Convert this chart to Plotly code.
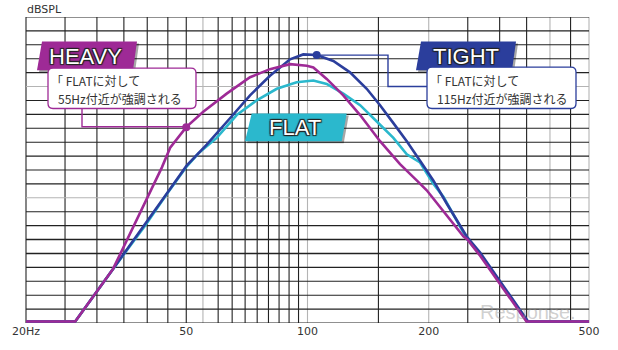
import math
import plotly.graph_objects as go

# ---------------- data (frequency in Hz, level in grid units) ----------------
heavy_freq = [20, 26.5, 32.9, 39.5, 43.5, 45.6, 50, 55.1, 63.0, 72.0, 80.7, 90.5, 99.6, 103.4,
              111.6, 122.7, 135.1, 151.4, 169.7, 186.7, 197.7, 243.8, 249.4, 268.3, 349.6, 500]
heavy_lvl = [0.11, 0.11, 3.89, 8.59, 11.19, 12.6, 14.08, 15.19, 16.49, 17.67, 18.25, 18.61, 18.49, 18.37,
             17.55, 16.37, 14.95, 13.07, 11.42, 10.25, 9.54, 6.24, 6.01, 4.83, 0.11, 0.11]

tight_freq = [20, 26.5, 32.9, 39.5, 44.7, 50.1, 56.2, 64.2, 72.0, 80.7, 90.5, 97.6, 105.4, 115.9,
              127.5, 140.3, 151.4, 163.4, 176.4, 190.3, 205.3, 221.6, 249.4, 268.3, 353, 500]
tight_lvl = [0.11, 0.11, 3.89, 7.07, 9.30, 11.31, 12.83, 14.72, 16.37, 17.78, 18.96, 19.31, 19.27, 18.84,
             18.02, 16.84, 15.66, 14.37, 13.07, 11.66, 10.25, 8.59, 6.15, 5.06, 0.11, 0.11]

flat_freq = [20, 26.5, 32.9, 39.5, 44.7, 50.1, 53.6, 59.5, 66.7, 74.8, 83.9, 94.0, 103.4, 111.6,
             122.7, 135.1, 148.6, 163.4, 176.4, 190.3, 205.3, 217.5, 249.4, 268.3, 351.5, 500]
flat_lvl = [0.11, 0.11, 3.89, 7.0, 9.25, 11.25, 12.2, 13.31, 14.95, 16.01, 16.84, 17.31, 17.43, 17.19,
            16.49, 15.66, 14.49, 13.31, 12.13, 11.54, 10.01, 9.07, 6.01, 4.95, 0.11, 0.11]

dot_heavy = (50, 14.08)
dot_tight = (105.4, 19.27)

tick_vals = [20, 50, 100, 200, 500]
tick_text = ["20Hz", "50", "100", "200", "500"]

grid_x = [20, 25, 30, 35, 40, 45, 50, 55, 60, 65, 70, 75, 80, 85, 90, 95, 100,
          150, 200, 250, 300, 350, 400, 450, 500]
grid_x_light = [55, 100, 200, 400, 500]
grid_y = list(range(0, 23))
grid_y_light = [9, 17]
grid_y_heavy = [5, 6]

C_HEAVY = "#9E2A96"
C_TIGHT = "#2B3E9C"
C_FLAT = "#2BB8CD"

F_MIN, F_MAX = 20, 500

# ---------------- geometry helpers (pixel -> paper) ----------------
W, H = 618, 350
L, R, T, B = 26, 589, 17, 328


def pp(x, y):
    return (x - L) / (R - L), (B - y) / (B - T)


def fx(f):
    return (math.log10(f) - math.log10(F_MIN)) / (math.log10(F_MAX) - math.log10(F_MIN))


def poly(points):
    s = ""
    for i, (x, y) in enumerate(points):
        px, py = pp(x, y)
        s += ("M" if i == 0 else "L") + f"{px:.5f},{py:.5f} "
    return s + "Z"


def rrect(x0, y0, x1, y1, r):
    def P(x, y):
        a, b = pp(x, y)
        return f"{a:.5f},{b:.5f}"
    return (f"M{P(x0 + r, y0)} L{P(x1 - r, y0)} Q{P(x1, y0)} {P(x1, y0 + r)} "
            f"L{P(x1, y1 - r)} Q{P(x1, y1)} {P(x1 - r, y1)} L{P(x0 + r, y1)} "
            f"Q{P(x0, y1)} {P(x0, y1 - r)} L{P(x0, y0 + r)} Q{P(x0, y0)} {P(x0 + r, y0)} Z")


def polyline(points):
    s = ""
    for i, (x, y) in enumerate(points):
        px, py = pp(x, y)
        s += ("M" if i == 0 else "L") + f"{px:.5f},{py:.5f} "
    return s


fig = go.Figure()

fig.add_trace(go.Scatter(x=flat_freq, y=flat_lvl, mode="lines",
                         line=dict(color=C_FLAT, width=2.6), hoverinfo="skip"))
fig.add_trace(go.Scatter(x=tight_freq, y=tight_lvl, mode="lines",
                         line=dict(color=C_TIGHT, width=2.6), hoverinfo="skip"))
fig.add_trace(go.Scatter(x=heavy_freq, y=heavy_lvl, mode="lines",
                         line=dict(color=C_HEAVY, width=2.6), hoverinfo="skip"))
fig.add_trace(go.Scatter(x=[dot_heavy[0]], y=[dot_heavy[1]], mode="markers",
                         marker=dict(color=C_HEAVY, size=8), hoverinfo="skip"))
fig.add_trace(go.Scatter(x=[dot_tight[0]], y=[dot_tight[1]], mode="markers",
                         marker=dict(color=C_TIGHT, size=8), hoverinfo="skip"))

shapes = []
# grid
for f in grid_x:
    col = "#b4b4b4" if f in grid_x_light else "#222222"
    shapes.append(dict(type="line", xref="paper", yref="paper", x0=fx(f), x1=fx(f),
                       y0=0, y1=1, line=dict(color=col, width=1.1), layer="below"))
for g in grid_y:
    col = "#b4b4b4" if g in grid_y_light else "#222222"
    wd = 1.6 if g in grid_y_heavy else 1.1
    shapes.append(dict(type="line", xref="paper", yref="y", x0=0, x1=1, y0=g, y1=g,
                       line=dict(color=col, width=wd), layer="below"))

# connectors
shapes.append(dict(type="path", xref="paper", yref="paper",
                   path=polyline([(82, 110), (82, 128.5), (186, 128.5)]),
                   line=dict(color=C_HEAVY, width=1.4)))
shapes.append(dict(type="path", xref="paper", yref="paper",
                   path=polyline([(316.7, 55.7), (388, 55.7), (388, 87.7), (427, 87.7)]),
                   line=dict(color=C_TIGHT, width=1.4)))

# labels (parallelograms) with shadows
labels = [
    ([(42, 42), (137, 42), (133, 71), (37, 71)], C_HEAVY),
    ([(421, 42), (516, 42), (512, 71), (416, 71)], C_TIGHT),
    ([(251.7, 115), (346.7, 115), (341.7, 143.3), (245, 143.3)], C_FLAT),
]
for pts, col in labels:
    sh = [(x + 2, y + 2) for x, y in pts]
    shapes.append(dict(type="path", xref="paper", yref="paper", path=poly(sh),
                       fillcolor="rgba(0,0,0,0.35)", line=dict(width=0)))
    shapes.append(dict(type="path", xref="paper", yref="paper", path=poly(pts),
                       fillcolor=col, line=dict(width=0)))

# callout boxes
shapes.append(dict(type="path", xref="paper", yref="paper", path=rrect(48, 69, 196, 110, 5),
                   fillcolor="white", line=dict(color=C_HEAVY, width=1.3)))
shapes.append(dict(type="path", xref="paper", yref="paper", path=rrect(427, 68, 576, 110, 5),
                   fillcolor="white", line=dict(color=C_TIGHT, width=1.3)))

annotations = []


def txt(x, y, s, size=12, color="#333333", xanchor="left", family="Noto Sans CJK JP", shadow=None, **kw):
    px, py = pp(x, y)
    font = dict(size=size, color=color, family=family)
    if shadow:
        font["shadow"] = shadow
    annotations.append(dict(x=px, y=py, xref="paper", yref="paper", text=s, showarrow=False,
                            xanchor=xanchor, yanchor="middle", font=font, **kw))


lab_shadow = "1px 1px 1px #222, -1px -1px 1px #222, 1px -1px 1px #222, -1px 1px 1px #222"
txt(85, 57, "HEAVY", size=22, color="white", xanchor="center", family="Liberation Sans", shadow=lab_shadow)
txt(465.5, 57, "TIGHT", size=22, color="white", xanchor="center", family="Liberation Sans", shadow=lab_shadow)
txt(295, 129, "FLAT", size=22, color="white", xanchor="center", family="Liberation Sans", shadow=lab_shadow)

txt(49, 82, "「 FLATに対して")
txt(55.5, 100, "55Hz付近が強調される")
txt(428, 82, "「 FLATに対して")
txt(435, 100, "115Hz付近が強調される")

txt(25, 9, "dBSPL", size=11, color="#333333", family="DejaVu Sans")
txt(528, 317, "Response.", size=20, color="rgba(150,150,150,0.45)", xanchor="center",
    family="Liberation Sans")

fig.update_layout(
    width=W, height=H,
    margin=dict(l=L, r=W - R, t=T, b=H - B),
    paper_bgcolor="white", plot_bgcolor="white",
    showlegend=False,
    shapes=shapes, annotations=annotations,
    xaxis=dict(type="log", range=[math.log10(F_MIN), math.log10(F_MAX)], showgrid=False, zeroline=False,
               tickvals=tick_vals, ticktext=tick_text, ticks="", showline=False,
               tickfont=dict(family="DejaVu Sans", size=11, color="#333333"), fixedrange=True),
    yaxis=dict(range=[0, 22], showgrid=False, zeroline=False, showticklabels=False, ticks="",
               showline=False, fixedrange=True),
)

fig.write_html("out.html")
